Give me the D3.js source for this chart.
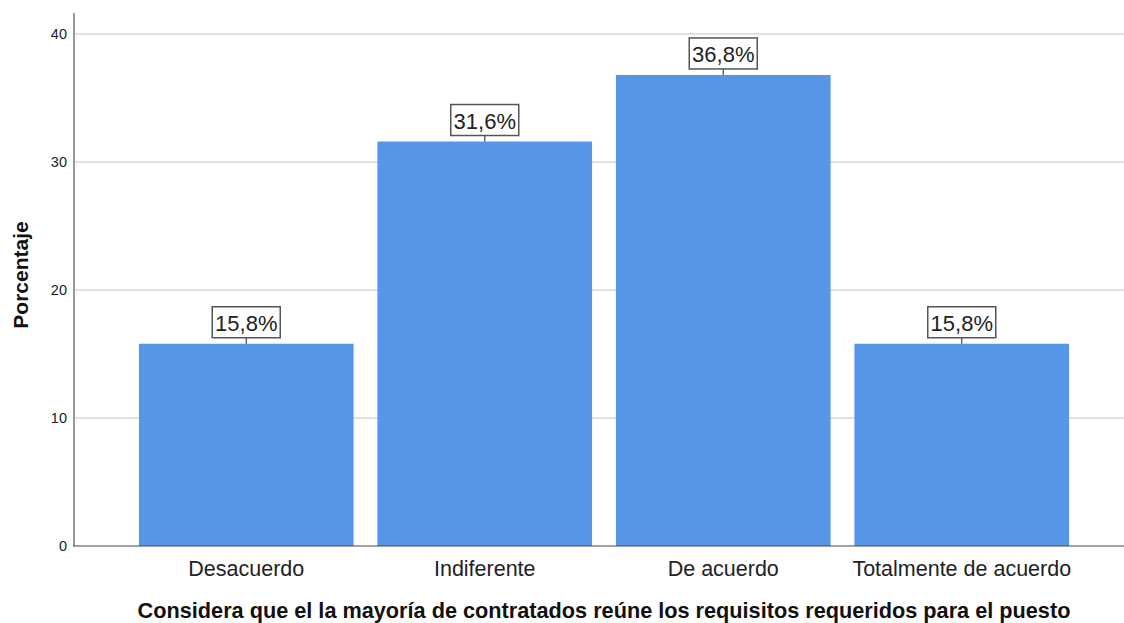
<!DOCTYPE html>
<html>
<head>
<meta charset="utf-8">
<script src="https://cdn.jsdelivr.net/npm/d3@7"></script>
<style>
  html, body { margin: 0; padding: 0; background: #fff; }
  svg { display: block; font-family: "Liberation Sans", Arial, sans-serif; }
</style>
</head>
<body>
<svg id="chart" width="1124" height="623"></svg>
<script>
const categories = ["Desacuerdo", "Indiferente", "De acuerdo", "Totalmente de acuerdo"];
const percentages = [15.8, 31.6, 36.8, 15.8];
const yTicks = [0, 10, 20, 30, 40];
const xTitle = "Considera que el la mayoría de contratados reúne los requisitos requeridos para el puesto";
const yTitle = "Porcentaje";

const svg = d3.select("#chart");
const axisX = 74, plotTop = 13, plotBottom = 546, plotRight = 1124;

const y = d3.scaleLinear().domain([0, 40]).range([plotBottom, 34]);
const x = d3.scaleBand().domain(categories).range([127, 1081])
  .paddingInner(0.1).paddingOuter(0.05);

// gridlines
svg.append("g").selectAll("line").data(yTicks.filter(d => d > 0)).join("line")
  .attr("x1", axisX).attr("x2", plotRight)
  .attr("y1", d => y(d)).attr("y2", d => y(d))
  .attr("stroke", "#d6d6d6").attr("stroke-width", 1.5);

// bars
svg.append("g").selectAll("rect").data(percentages).join("rect")
  .attr("x", (d, i) => x(categories[i]))
  .attr("width", x.bandwidth())
  .attr("y", d => y(d))
  .attr("height", d => plotBottom - y(d))
  .attr("fill", "#5596e6");

// y axis
const yAxis = svg.append("g").attr("transform", `translate(${axisX},0)`)
  .call(d3.axisLeft(y).tickValues(yTicks).tickSize(0).tickPadding(7));
yAxis.select(".domain").remove();
yAxis.selectAll("text").attr("font-size", 14.5).attr("fill", "#222")
  .attr("font-family", "Liberation Sans, Arial, sans-serif");
svg.append("line").attr("x1", axisX).attr("x2", axisX)
  .attr("y1", plotTop).attr("y2", plotBottom)
  .attr("stroke", "#999").attr("stroke-width", 2);

// x axis
const xAxis = svg.append("g").attr("transform", `translate(0,${plotBottom})`)
  .call(d3.axisBottom(x).tickSize(0).tickPadding(0));
xAxis.select(".domain").remove();
xAxis.selectAll("text").attr("font-size", 21.5).attr("fill", "#222")
  .attr("dy", null).attr("y", 30)
  .attr("font-family", "Liberation Sans, Arial, sans-serif");
svg.append("line").attr("x1", axisX - 1).attr("x2", plotRight)
  .attr("y1", plotBottom).attr("y2", plotBottom)
  .attr("stroke", "#444").attr("stroke-width", 1.2);

// axis titles
svg.append("text").attr("x", 604).attr("y", 618)
  .attr("text-anchor", "middle").attr("font-size", 21.7).attr("font-weight", "bold")
  .attr("fill", "#111").text(xTitle);
svg.append("text").attr("transform", "translate(28,275) rotate(-90)")
  .attr("text-anchor", "middle").attr("font-size", 21).attr("font-weight", "bold")
  .attr("fill", "#111").text(yTitle);

// value labels with boxes
const fmt = d => d.toFixed(1).replace(".", ",") + "%";
const labels = svg.append("g").selectAll("g").data(percentages).join("g")
  .attr("transform", (d, i) => `translate(${x(categories[i]) + x.bandwidth() / 2},${y(d)})`);
labels.append("line").attr("x1", 0).attr("x2", 0).attr("y1", 0).attr("y2", -6)
  .attr("stroke", "#444").attr("stroke-width", 1.2);
labels.append("rect").attr("x", -34).attr("y", -37).attr("width", 68).attr("height", 31)
  .attr("fill", "#fff").attr("stroke", "#555").attr("stroke-width", 1.5);
labels.append("text").attr("x", 0).attr("y", -13).attr("text-anchor", "middle")
  .attr("font-size", 22).attr("fill", "#222").text(fmt);
</script>
</body>
</html>
